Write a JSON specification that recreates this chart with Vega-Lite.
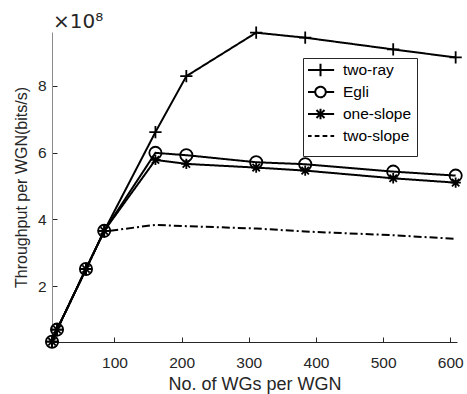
{
  "$schema": "https://vega.github.io/schema/vega-lite/v6.json",
  "width": 405,
  "height": 310,
  "autosize": "none",
  "padding": {"left": 52, "top": 32, "right": 10, "bottom": 52},
  "background": "white",
  "config": {
    "view": {"stroke": null},
    "font": "Liberation Sans",
    "axis": {"grid": false, "labelFont": "Liberation Sans", "titleFont": "Liberation Sans", "labelColor": "#262626", "titleColor": "#262626", "titleFontWeight": "normal", "tickColor": "#262626", "labelFontSize": 15.5, "tickSize": -5, "tickWidth": 1}
  },
  "title": {"text": "×10⁸", "anchor": "start", "frame": "group", "fontSize": 20, "fontWeight": "normal", "color": "#262626", "font": "DejaVu Sans", "offset": 5, "dx": 1, "dy": 14},
  "data": {"values": [
    {"series": "two-ray", "x": 7, "y": 0.35},
    {"series": "two-ray", "x": 14.5, "y": 0.71},
    {"series": "two-ray", "x": 57.6, "y": 2.52},
    {"series": "two-ray", "x": 84.7, "y": 3.66},
    {"series": "two-ray", "x": 161, "y": 6.61},
    {"series": "two-ray", "x": 207, "y": 8.28},
    {"series": "two-ray", "x": 311, "y": 9.58},
    {"series": "two-ray", "x": 384, "y": 9.43},
    {"series": "two-ray", "x": 515, "y": 9.08},
    {"series": "two-ray", "x": 608, "y": 8.84},
    {"series": "Egli", "x": 7, "y": 0.35},
    {"series": "Egli", "x": 14.5, "y": 0.71},
    {"series": "Egli", "x": 57.6, "y": 2.52},
    {"series": "Egli", "x": 84.7, "y": 3.66},
    {"series": "Egli", "x": 161, "y": 5.99},
    {"series": "Egli", "x": 207, "y": 5.92},
    {"series": "Egli", "x": 311, "y": 5.71},
    {"series": "Egli", "x": 384, "y": 5.65},
    {"series": "Egli", "x": 515, "y": 5.43},
    {"series": "Egli", "x": 608, "y": 5.31},
    {"series": "one-slope", "x": 7, "y": 0.35},
    {"series": "one-slope", "x": 14.5, "y": 0.71},
    {"series": "one-slope", "x": 57.6, "y": 2.52},
    {"series": "one-slope", "x": 84.7, "y": 3.66},
    {"series": "one-slope", "x": 161, "y": 5.78},
    {"series": "one-slope", "x": 207, "y": 5.66},
    {"series": "one-slope", "x": 311, "y": 5.55},
    {"series": "one-slope", "x": 384, "y": 5.46},
    {"series": "one-slope", "x": 515, "y": 5.23},
    {"series": "one-slope", "x": 608, "y": 5.10},
    {"series": "two-slope", "x": 7, "y": 0.35},
    {"series": "two-slope", "x": 14.5, "y": 0.71},
    {"series": "two-slope", "x": 57.6, "y": 2.52},
    {"series": "two-slope", "x": 84.7, "y": 3.64},
    {"series": "two-slope", "x": 161, "y": 3.84},
    {"series": "two-slope", "x": 207, "y": 3.80},
    {"series": "two-slope", "x": 311, "y": 3.73},
    {"series": "two-slope", "x": 384, "y": 3.64},
    {"series": "two-slope", "x": 515, "y": 3.53},
    {"series": "two-slope", "x": 608, "y": 3.42}
  ]},
  "encoding": {
    "x": {"field": "x", "type": "quantitative", "scale": {"domain": [7, 610], "nice": false, "zero": false},
      "axis": {"values": [100, 200, 300, 400, 500, 600], "title": "No. of WGs per WGN", "titleFontSize": 18, "titlePadding": 5, "labelPadding": 18, "domainColor": "#262626"}},
    "y": {"field": "y", "type": "quantitative", "scale": {"domain": [0.34, 9.6], "nice": false, "zero": false},
      "axis": {"values": [2, 4, 6, 8], "title": "Throughput per WGN(bits/s)", "titleFontSize": 16, "titlePadding": 8, "labelPadding": 11, "domainColor": "#8c8c8c"}}
  },
  "layer": [
    {
      "mark": {"type": "line", "color": "black", "strokeWidth": 2},
      "encoding": {
        "detail": {"field": "series"},
        "strokeDash": {"field": "series", "type": "nominal",
          "scale": {"domain": ["two-ray", "Egli", "one-slope", "two-slope"], "range": [[1, 0], [1, 0], [1, 0], [8, 3, 2, 3]]},
          "legend": {"orient": "none", "legendX": 251, "legendY": 26, "title": null, "strokeColor": "#262626", "fillColor": "white", "padding": 5, "labelFontSize": 15.5, "labelFont": "Liberation Sans", "labelColor": "black", "symbolSize": 441, "symbolStrokeWidth": 2, "symbolStrokeColor": "black", "labelOffset": 11, "symbolOffset": 1, "rowPadding": 0, "clipHeight": 22,
            "encode": {
              "symbols": {"update": {"y": {"value": 7}, "shape": {"signal": "datum.value === 'two-ray' ? 'M-1.3,0H1.3M0,-0.6V0.6M-0.6,0H0.6' : datum.value === 'Egli' ? 'M-1.3,0H-0.5M0.5,0H1.3M-0.5,0A0.5,0.5 0 1,0 0.5,0A0.5,0.5 0 1,0 -0.5,0' : datum.value === 'one-slope' ? 'M-1.3,0H1.3M0,-0.5V0.5M-0.38,-0.38L0.38,0.38M-0.38,0.38L0.38,-0.38' : 'M-1.3,0H-0.85M-0.55,0H-0.1M0.2,0H0.65M0.95,0H1.3'"}, "strokeDash": {"value": [1, 0]}, "fill": {"value": "transparent"}}},
              "labels": {"update": {"y": {"value": 7}}}
            }}
        }
      }
    },
    {
      "transform": [{"filter": "datum.series !== 'two-slope'"}],
      "mark": {"type": "point", "filled": false, "color": "black", "strokeWidth": 1.8, "opacity": 1, "size": 150},
      "encoding": {
        "shape": {"field": "series", "type": "nominal",
          "scale": {"domain": ["two-ray", "Egli", "one-slope"], "range": ["M-1,0H1M0,-1V1", "circle", "M-0.85,0H0.85M0,-0.85V0.85M-0.6,-0.6L0.6,0.6M-0.6,0.6L0.6,-0.6"]},
          "legend": null}
      }
    }
  ]
}
